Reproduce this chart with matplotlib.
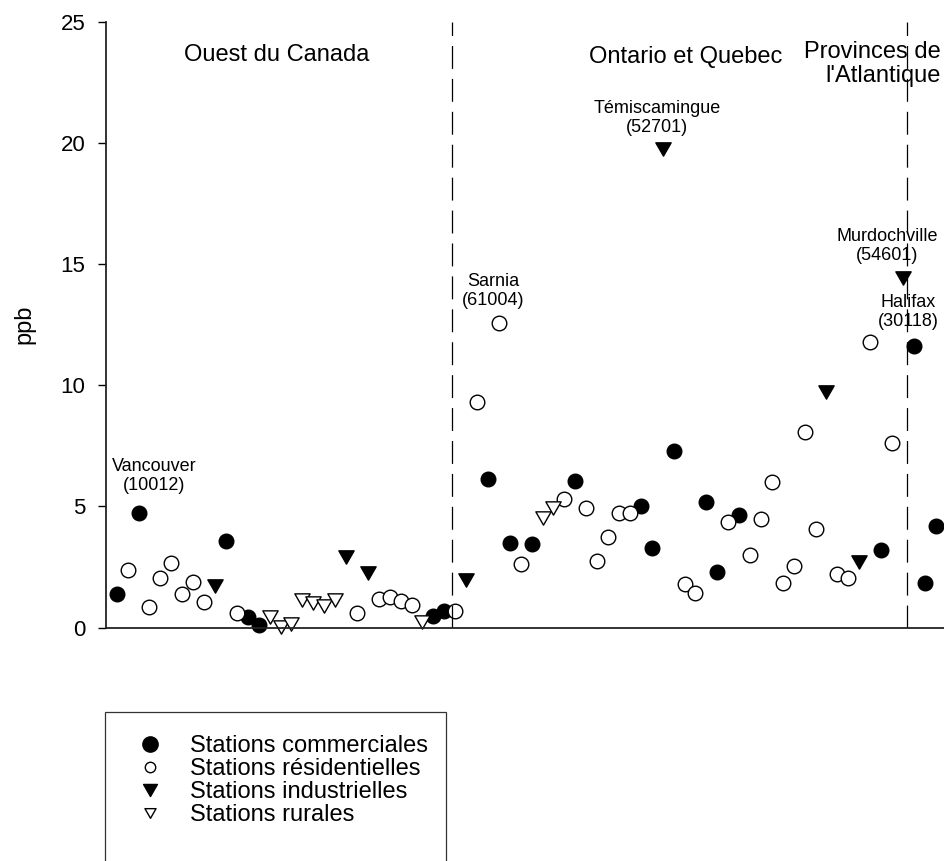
import matplotlib
matplotlib.use('Agg')
import matplotlib.pyplot as plt
from matplotlib.lines import Line2D
from matplotlib.patches import Rectangle
from matplotlib.path import Path

plt.rcParams['font.family'] = ['Liberation Sans', 'DejaVu Sans']

# Stations classees d'ouest en est (position = rang de la station)
com_x = [1, 3, 11, 13, 14, 30, 31, 35, 37, 39, 43, 49, 50, 52, 55, 56, 58, 71, 74, 75, 76]
com_y = [1.38, 4.74, 3.58, 0.45, 0.10, 0.49, 0.69, 6.11, 3.50, 3.43, 6.06, 5.03, 3.29,
         7.28, 5.16, 2.30, 4.64, 3.20, 11.63, 1.82, 4.19]

res_x = [2, 4, 5, 6, 7, 8, 9, 12, 23, 25, 26, 27, 28, 32, 34, 36, 38, 42, 44, 45, 46, 47,
         48, 53, 54, 57, 59, 60, 61, 62, 63, 64, 65, 67, 68, 70, 72]
res_y = [2.37, 0.83, 2.03, 2.65, 1.37, 1.89, 1.07, 0.61, 0.58, 1.16, 1.24, 1.11, 0.93,
         0.69, 9.32, 12.55, 2.62, 5.29, 4.92, 2.74, 3.72, 4.71, 4.71, 1.79, 1.41, 4.37,
         2.99, 4.46, 6.00, 1.85, 2.54, 8.05, 4.05, 2.21, 2.03, 11.79, 7.62]

ind_x = [10, 22, 24, 33, 51, 66, 69, 73]
ind_y = [1.71, 2.92, 2.24, 1.96, 19.73, 9.73, 2.72, 14.41]

rur_x = [15, 16, 17, 18, 19, 20, 21, 29, 40, 41]
rur_y = [0.45, 0.03, 0.13, 1.13, 1.00, 0.89, 1.13, 0.24, 4.50, 4.92]

region_breaks = [31.75, 73.35]
region_names = ['Ouest du Canada', 'Ontario et Quebec', "Provinces de\nl'Atlantique"]

notes = ['Vancouver\n(10012)', 'Sarnia\n(61004)', 'Témiscamingue\n(52701)',
         'Murdochville\n(54601)', 'Halifax\n(30118)']
note_x = [4.41, 35.49, 50.48, 71.57, 73.49]
note_y = [6.25, 13.88, 21.0, 15.74, 13.03]

legend_labels = ['Stations commerciales', 'Stations résidentielles',
                 'Stations industrielles', 'Stations rurales']

W, H = 944, 861
fig = plt.figure(figsize=(W / 100, H / 100), dpi=100)
ax = fig.add_axes([105.8 / W, 233.5 / H, (957.5 - 105.8) / W, 606 / H])

# triangle pointe en bas, un peu plus large que haut
tri = Path([(-1, 0.87), (1, 0.87), (0, -0.87), (-1, 0.87)],
           [Path.MOVETO, Path.LINETO, Path.LINETO, Path.CLOSEPOLY])
ms = 10.5
ax.plot(com_x, com_y, 'o', ms=ms, mfc='black', mec='black', mew=1, clip_on=False)
ax.plot(res_x, res_y, 'o', ms=ms, mfc='white', mec='black', mew=1, clip_on=False)
ax.plot(ind_x, ind_y, ls='none', marker=tri, ms=11, mfc='black', mec='black', mew=1, clip_on=False)
ax.plot(rur_x, rur_y, ls='none', marker=tri, ms=11, mfc='white', mec='black', mew=1, clip_on=False)

lw = 0.9
for b in region_breaks:
    ax.axvline(b, color='black', lw=lw, dashes=(16.5 / lw, 7.2 / lw))

ax.text(15.63, 23.62, region_names[0], ha='center', va='center', fontsize=17)
ax.text(53.13, 23.55, region_names[1], ha='center', va='center', fontsize=17)
ax.text(76.44, 23.25, region_names[2], ha='right', va='center', fontsize=17,
        multialignment='right', linespacing=1.07)

for t, x, y in zip(notes, note_x, note_y):
    ax.text(x, y, t, ha='center', va='center', fontsize=13, linespacing=1.15)

ax.set_xlim(0, 78)
ax.set_ylim(0, 25)
ax.set_yticks([0, 5, 10, 15, 20, 25])
ax.set_xticks([])
ax.tick_params(axis='y', direction='out', length=5.8, width=1, labelsize=16, pad=9)
ax.set_ylabel('ppb', fontsize=17, labelpad=18)
for s in ['top', 'right']:
    ax.spines[s].set_visible(False)
for s in ['left', 'bottom']:
    ax.spines[s].set_linewidth(1.3)
    ax.spines[s].set_color('#222222')

# legende
handles = [
    Line2D([], [], ls='none', marker='o', ms=11, mfc='black', mec='black'),
    Line2D([], [], ls='none', marker='o', ms=7.5, mfc='white', mec='black', mew=1),
    Line2D([], [], ls='none', marker=tri, ms=10, mfc='black', mec='black'),
    Line2D([], [], ls='none', marker=tri, ms=8, mfc='white', mec='black', mew=1),
]
fig.legend(handles, legend_labels, loc='upper left', bbox_to_anchor=(131 / W, 1 - 735 / H),
           frameon=False, fontsize=17, borderpad=0, borderaxespad=0, labelspacing=0.04,
           handlelength=1.6, handletextpad=0.9)
fig.patches.append(Rectangle((105 / W, -0.1), (446 - 105) / W, 0.1 + 1 - 712.3 / H,
                             transform=fig.transFigure, fill=False, ec='#333333', lw=0.9))

fig.savefig('out.png', dpi=100)
